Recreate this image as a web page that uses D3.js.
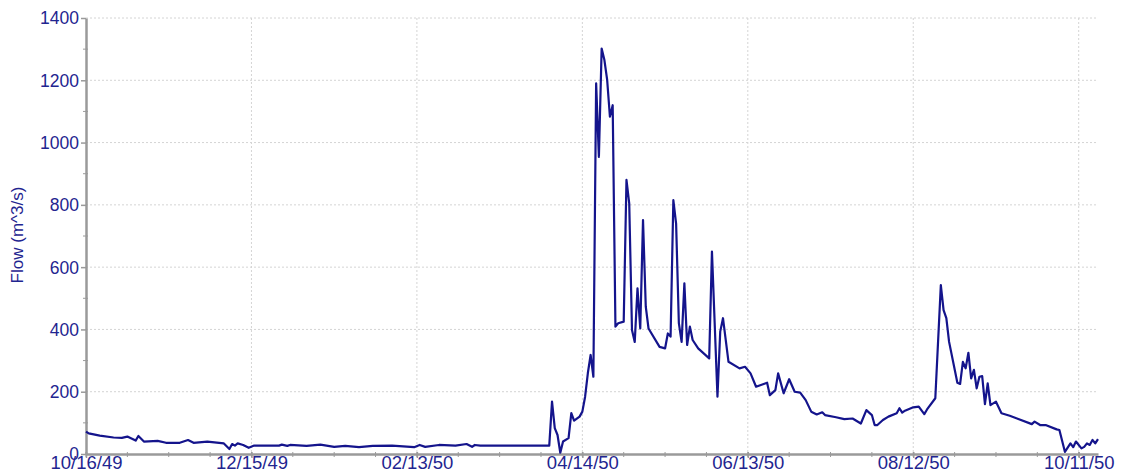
<!DOCTYPE html>
<html>
<head>
<meta charset="utf-8">
<script src="https://cdn.jsdelivr.net/npm/d3@7"></script>
<style>
  body { margin: 0; background: #fff; }
  text { font-family: Arial, "Liberation Sans", sans-serif; }
</style>
</head>
<body>
<div id="chart"></div>
<script>
// flow readings (m^3/s), irregular dates
var dates = [
  "1949-10-16","1949-10-17","1949-10-21","1949-10-26","1949-10-29","1949-10-31","1949-11-03","1949-11-04",
  "1949-11-06","1949-11-11","1949-11-14","1949-11-19","1949-11-22","1949-11-24","1949-11-29","1949-12-05",
  "1949-12-07","1949-12-08","1949-12-09","1949-12-10","1949-12-12","1949-12-14","1949-12-16","1949-12-25",
  "1949-12-26","1949-12-28","1949-12-29","1950-01-04","1950-01-09","1950-01-14","1950-01-18","1950-01-23",
  "1950-01-28","1950-02-04","1950-02-12","1950-02-14","1950-02-16","1950-02-21","1950-02-27","1950-03-03",
  "1950-03-05","1950-03-06","1950-03-08","1950-04-02","1950-04-03","1950-04-04","1950-04-05","1950-04-06",
  "1950-04-07","1950-04-09","1950-04-10","1950-04-11","1950-04-13","1950-04-14","1950-04-15","1950-04-16",
  "1950-04-17","1950-04-18","1950-04-19","1950-04-20","1950-04-21","1950-04-22","1950-04-23","1950-04-24",
  "1950-04-25","1950-04-26","1950-04-27","1950-04-29","1950-04-30","1950-05-01","1950-05-02","1950-05-03",
  "1950-05-04","1950-05-05","1950-05-06","1950-05-07","1950-05-08","1950-05-12","1950-05-14","1950-05-15",
  "1950-05-16","1950-05-17","1950-05-18","1950-05-19","1950-05-20","1950-05-21","1950-05-22","1950-05-23",
  "1950-05-24","1950-05-26","1950-05-30","1950-05-31","1950-06-02","1950-06-03","1950-06-04","1950-06-06",
  "1950-06-10","1950-06-12","1950-06-14","1950-06-16","1950-06-20","1950-06-21","1950-06-23","1950-06-24",
  "1950-06-26","1950-06-28","1950-06-30","1950-07-02","1950-07-04","1950-07-06","1950-07-08","1950-07-10",
  "1950-07-11","1950-07-15","1950-07-18","1950-07-21","1950-07-24","1950-07-26","1950-07-28","1950-07-29",
  "1950-07-30","1950-08-01","1950-08-03","1950-08-06","1950-08-07","1950-08-08","1950-08-09","1950-08-12",
  "1950-08-14","1950-08-16","1950-08-17","1950-08-20","1950-08-22","1950-08-23","1950-08-24","1950-08-25",
  "1950-08-28","1950-08-29","1950-08-30","1950-08-31","1950-09-01","1950-09-02","1950-09-03","1950-09-04",
  "1950-09-05","1950-09-06","1950-09-07","1950-09-08","1950-09-09","1950-09-11","1950-09-13","1950-09-16",
  "1950-09-24","1950-09-25","1950-09-27","1950-09-29","1950-10-03","1950-10-04","1950-10-06","1950-10-08",
  "1950-10-09","1950-10-10","1950-10-12","1950-10-13","1950-10-14","1950-10-15","1950-10-16","1950-10-17",
  "1950-10-18"
];
var flows = [
  72, 66, 59, 53, 52, 56, 43, 58,
  40, 42, 36, 36, 45, 36, 40, 34,
  16, 32, 27, 34, 29, 20, 27, 27,
  30, 26, 29, 26, 30, 23, 26, 22,
  26, 27, 22, 29, 23, 29, 27, 32,
  23, 29, 27, 27, 168, 83, 61, 4,
  40, 51, 131, 107, 120, 136, 184, 260,
  318, 248, 1190, 954, 1302, 1265, 1201, 1083,
  1120, 409, 420, 425, 880, 805, 398, 360,
  532, 403, 751, 473, 403, 344, 339, 387,
  377, 815, 740, 420, 360, 548, 350, 409,
  366, 339, 307, 650, 184, 393, 436, 296,
  275, 280, 259, 216, 229, 189, 205, 259,
  195, 240, 200, 197, 173, 136, 127, 134,
  125, 118, 112, 114, 98, 141, 125, 93,
  93, 109, 120, 131, 147, 133, 139, 150,
  152, 128, 143, 179, 542, 462, 436, 360,
  229, 225, 296, 275, 325, 243, 270, 211,
  248, 250, 160, 227, 157, 168, 131, 123,
  96, 104, 93, 93, 79, 77, 7, 34,
  22, 40, 18, 23, 34, 29, 45, 34,
  48
];
var xTickDates = ["1949-10-16","1949-12-15","1950-02-13","1950-04-14","1950-06-13","1950-08-12","1950-10-11"];
var yTicks = [0, 200, 400, 600, 800, 1000, 1200, 1400];
var yLabel = "Flow (m^3/s)";

var parse = d3.timeParse("%Y-%m-%d");
var data = dates.map(function (d, i) { return {date: parse(d), flow: flows[i]}; });

var W = 1121, H = 476;
var margin = {top: 18, right: 23, bottom: 22, left: 86};
var width = W - margin.left - margin.right,
    height = H - margin.top - margin.bottom;

var textColor = "#1f2590", lineColor = "#14148c", axisColor = "#9a9a9a";
var font = "Arial, 'Liberation Sans', sans-serif";

var svg = d3.select("#chart").append("svg")
    .attr("width", W).attr("height", H);
var g = svg.append("g")
    .attr("transform", "translate(" + margin.left + "," + margin.top + ")");

var x = d3.scaleTime()
    .domain(d3.extent(data, d => d.date))
    .range([0, width]);
var y = d3.scaleLinear()
    .domain([0, 1400])
    .range([height, 0]);

// minor ticks: every 15 days / every 100
var xMajor = xTickDates.map(parse);
var xMinor = d3.timeDay.every(1).range(x.domain()[0], x.domain()[1])
    .filter(function (d) { return Math.round((d - x.domain()[0]) / 864e5) % 15 === 0; });
var yMinor = d3.range(100, 1400, 200);

// grid
g.append("g").selectAll("line").data(yTicks.slice(1)).enter().append("line")
    .attr("x1", 0).attr("x2", width)
    .attr("y1", d => y(d)).attr("y2", d => y(d))
    .attr("stroke", "#d4d4d4").attr("stroke-dasharray", "2,2");
g.append("g").selectAll("line").data(xMajor.slice(1)).enter().append("line")
    .attr("x1", d => x(d)).attr("x2", d => x(d))
    .attr("y1", 0).attr("y2", height)
    .attr("stroke", "#d4d4d4").attr("stroke-dasharray", "2,2");

// minor tick marks
g.append("g").selectAll("line").data(xMinor).enter().append("line")
    .attr("x1", d => x(d)).attr("x2", d => x(d))
    .attr("y1", height - 2).attr("y2", height + 3)
    .attr("stroke", axisColor).attr("stroke-width", 1);
g.append("g").selectAll("line").data(yMinor).enter().append("line")
    .attr("x1", -3).attr("x2", 2)
    .attr("y1", d => y(d)).attr("y2", d => y(d))
    .attr("stroke", axisColor).attr("stroke-width", 1);

// axes
var xAxis = d3.axisBottom(x).tickValues(xMajor)
    .tickFormat(d3.timeFormat("%m/%d/%y")).tickSizeInner(4).tickSizeOuter(0).tickPadding(0);
var gx = g.append("g").attr("transform", "translate(0," + height + ")").call(xAxis);
gx.select(".domain").attr("stroke", axisColor).attr("stroke-width", 2.5);
gx.selectAll(".tick line").attr("stroke", axisColor).attr("stroke-width", 1.5).attr("y1", -2);
gx.selectAll(".tick text").attr("fill", textColor).attr("font-size", "18.5px")
    .attr("font-family", font).attr("y", 1.5);

var yAxis = d3.axisLeft(y).tickValues(yTicks).tickFormat(d3.format("d"))
    .tickSizeInner(5).tickSizeOuter(0).tickPadding(2);
var gy = g.append("g").call(yAxis);
gy.select(".domain").attr("stroke", axisColor).attr("stroke-width", 2.5);
gy.selectAll(".tick line").attr("stroke", axisColor).attr("stroke-width", 1.5);
gy.selectAll(".tick text").attr("fill", textColor).attr("font-size", "17.5px")
    .attr("font-family", font).attr("dy", "0.34em");

g.append("text")
    .attr("transform", "translate(" + (-63) + "," + (height / 2 - 1) + ") rotate(-90)")
    .attr("text-anchor", "middle")
    .attr("fill", textColor)
    .attr("font-size", "17px")
    .text(yLabel);

// flow line
var line = d3.line().x(d => x(d.date)).y(d => y(d.flow));
g.append("path").datum(data)
    .attr("fill", "none")
    .attr("stroke", lineColor)
    .attr("stroke-width", 2.2)
    .attr("stroke-linejoin", "round")
    .attr("d", line);
</script>
</body>
</html>
